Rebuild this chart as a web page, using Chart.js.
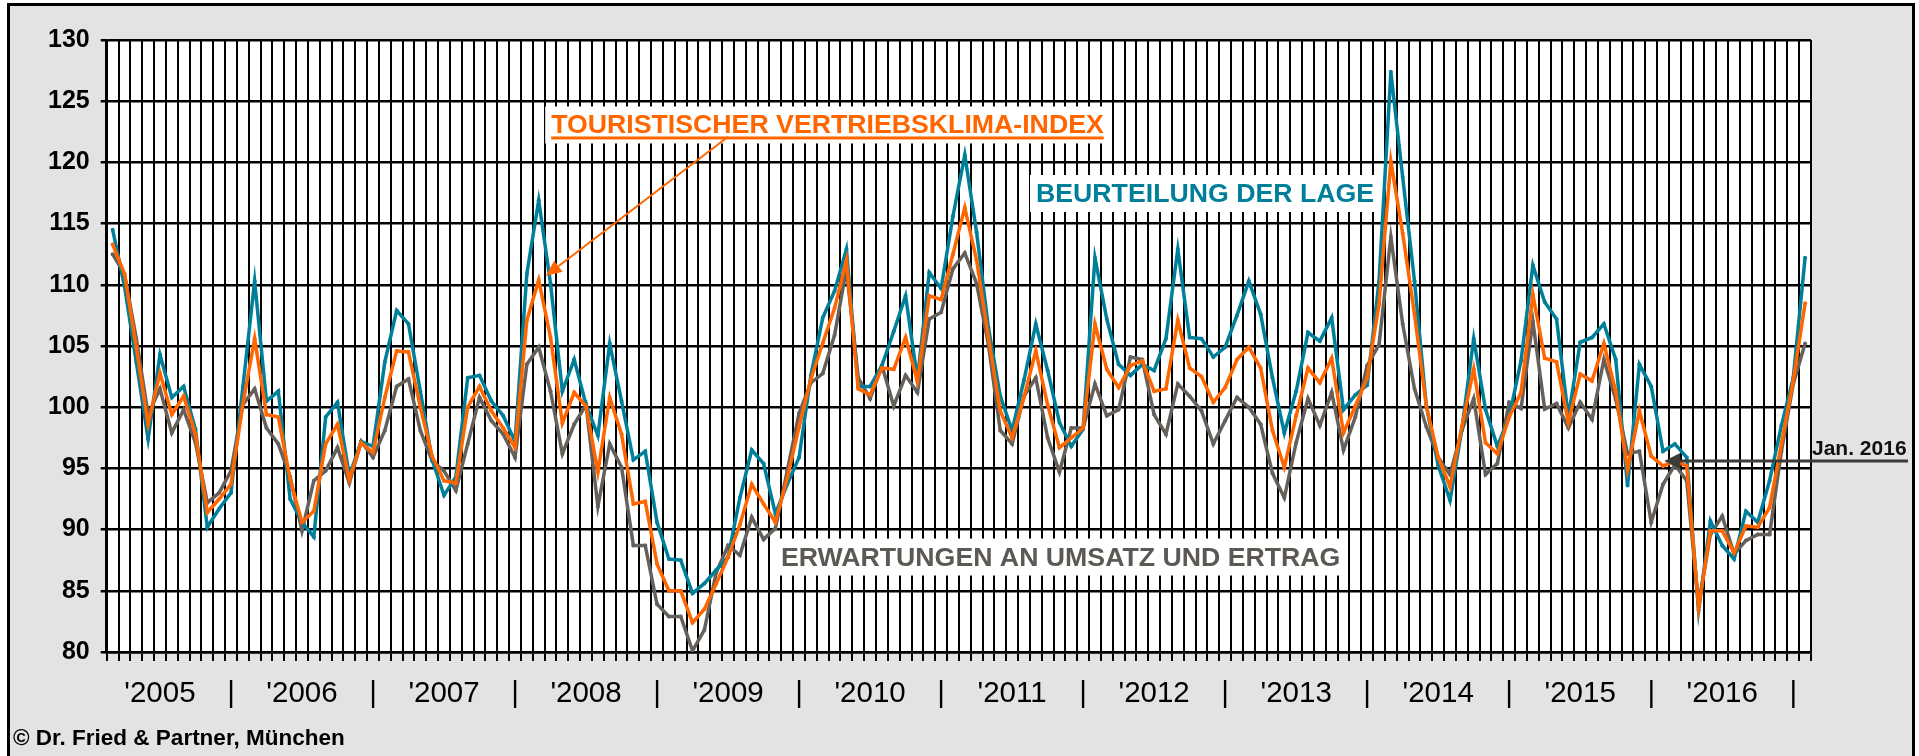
<!DOCTYPE html>
<html>
<head>
<meta charset="utf-8">
<script src="https://cdn.jsdelivr.net/npm/chart.js@4.4.1/dist/chart.umd.min.js"></script>
<style>
  html, body { margin: 0; padding: 0; background: #fff; }
  canvas { display: block; }
</style>
</head>
<body>
<canvas id="klimaChart" width="1919" height="756"></canvas>
<script>
const YEARS = ['2005','2006','2007','2008','2009','2010','2011','2012','2013','2014','2015','2016'];
const MONTHS = ['Jan','Feb','Mär','Apr','Mai','Jun','Jul','Aug','Sep','Okt','Nov','Dez'];
const YEAR_LABELS = ["'2005","'2006","'2007","'2008","'2009","'2010","'2011","'2012","'2013","'2014","'2015","'2016"];

// Touristischer Vertriebsklima-Index
const INDEX = [
  113.3,110.9,104.9,98.6,102.8,99.4,100.9,97.8,91.4,92.5,93.7,100.2,
  105.6,99.4,99.2,94.1,90.6,91.5,97.0,98.6,94.1,97.1,96.3,100.8,
  104.6,104.5,100.0,96.0,94.0,93.8,100.0,101.7,99.7,98.3,96.7,107.1,
  110.4,105.7,98.7,101.2,100.1,94.7,100.8,97.8,92.1,92.3,87.2,85.0,
  85.0,82.4,83.5,85.6,87.75,90.4,93.7,92.1,90.6,94.2,98.4,102.3,
  105.25,108.1,112.0,101.5,101.0,103.2,103.1,105.7,102.1,109.1,108.8,112.5,
  116.3,112.0,105.7,99.7,97.5,100.8,104.6,100.2,96.7,97.5,98.3,106.8,
  103.1,101.6,103.4,103.8,101.3,101.5,107.1,103.2,102.5,100.4,101.6,103.9,
  104.9,103.2,98.1,95.1,99.3,103.2,102.0,104.0,97.9,100.1,102.4,108.4,
  120.1,114.2,107.6,100.1,95.9,93.5,98.4,103.1,97.1,96.2,99.2,101.2,
  109.2,104.0,103.7,98.75,102.7,102.15,105.2,101.3,94.9,99.7,96.0,95.2,
  95.6,95.2,83.6,89.9,89.9,88.1,90.3,90.2,91.8,97.0,102.15,108.5
];

// Beurteilung der Lage
const LAGE = [
  114.5,109.9,103.7,97.4,104.3,100.8,101.7,98.2,90.2,91.7,93.0,101.6,
  110.3,100.5,101.3,92.5,90.6,89.4,99.2,100.4,94.4,97.2,96.8,103.7,
  107.9,106.8,101.3,95.7,92.8,94.3,102.4,102.6,100.5,99.3,97.2,110.9,
  116.9,110.1,101.3,103.9,100.2,97.7,105.2,100.5,95.7,96.4,90.6,87.6,
  87.5,84.8,85.6,86.7,87.75,92.6,96.5,95.4,91.3,93.7,95.9,102.6,
  107.3,109.5,112.9,101.7,101.7,103.4,106.2,109.1,102.3,111.0,109.7,115.6,
  120.6,114.3,106.5,100.9,98.1,102.2,106.8,103.0,98.75,96.8,98.2,112.2,
  107.2,103.5,102.6,103.5,103.0,105.6,112.9,105.7,105.6,104.1,104.9,107.5,
  110.3,107.6,102.4,97.9,101.3,106.1,105.4,107.3,99.8,101.0,101.8,110.25,
  127.4,118.8,110.3,100.1,95.25,92.4,98.2,105.6,99.8,96.8,99.2,103.8,
  111.6,108.6,107.2,99.2,105.3,105.7,106.8,103.9,93.6,103.5,101.7,96.4,
  97.0,95.9,83.4,90.7,88.7,87.6,91.5,90.6,94.0,98.5,102.4,112.2
];

// Erwartungen an Umsatz und Ertrag
const ERWARTUNG = [
  112.5,110.9,105.6,99.4,101.5,97.9,99.8,97.1,92.2,93.0,94.8,100.2,
  101.5,98.3,97.0,94.3,89.9,94.0,94.8,96.7,93.8,97.2,95.9,98.1,
  101.7,102.3,98.1,95.6,94.8,93.2,97.0,100.8,98.9,97.8,95.9,103.5,
  104.9,101.3,96.2,98.6,100.2,91.9,97.0,95.1,88.7,88.7,83.9,82.9,
  82.9,80.1,81.8,86.5,88.7,87.9,91.0,89.2,90.1,94.8,99.5,102.0,
  102.75,105.9,111.3,102.4,100.7,103.4,100.1,102.6,101.2,107.2,107.75,111.3,
  112.6,110.1,105.1,98.1,97.0,100.9,102.4,97.5,94.7,98.3,98.3,101.9,
  99.3,99.8,104.1,103.9,99.4,97.8,101.9,100.9,99.7,97.0,98.9,100.8,
  100.0,98.6,94.6,92.6,97.1,100.7,98.5,101.2,96.5,99.2,103.4,105.1,
  113.9,106.8,101.5,98.4,95.9,94.5,98.1,100.7,94.5,95.4,100.4,99.9,
  107.0,99.85,100.3,98.3,100.4,99.0,103.9,100.65,96.2,96.4,90.6,93.7,
  95.3,94.0,83.8,89.6,91.1,88.0,89.1,89.6,89.6,96.4,101.9,105.2
];

const FONT = '"Liberation Sans", Arial, Helvetica, sans-serif';
const BLAU = '#007f9b';
const ORANGE = '#ff6600';
const GRAU = '#66605b';

const labels = YEARS.flatMap(y => MONTHS.map(m => m + ' ' + y));

// Jahreslabels und Trennstriche unter der Achse
const yearTicks = [];
YEAR_LABELS.forEach((y, k) => {
  yearTicks.push({ value: 12 * k + 4, text: y });
  yearTicks.push({ value: 12 * k + 10, text: '|' });
});

function arrow(ctx, x1, y1, x2, y2, color, width, headLen, headW) {
  const ang = Math.atan2(y2 - y1, x2 - x1);
  const bx = x2 - headLen * Math.cos(ang), by = y2 - headLen * Math.sin(ang);
  ctx.strokeStyle = color; ctx.fillStyle = color; ctx.lineWidth = width;
  ctx.beginPath(); ctx.moveTo(x1, y1); ctx.lineTo(bx, by); ctx.stroke();
  ctx.beginPath();
  ctx.moveTo(x2, y2);
  ctx.lineTo(bx + headW * Math.sin(ang), by - headW * Math.cos(ang));
  ctx.lineTo(bx - headW * Math.sin(ang), by + headW * Math.cos(ang));
  ctx.closePath(); ctx.fill();
}

const framePlugin = {
  id: 'frame',
  beforeDraw(chart) {
    const { ctx, chartArea: a } = chart;
    ctx.save();
    ctx.fillStyle = '#fff';
    ctx.fillRect(0, 0, chart.width, chart.height);
    ctx.fillStyle = '#e3e3e3';
    ctx.fillRect(8, 4, 1905, 800);
    ctx.strokeStyle = '#000'; ctx.lineWidth = 3;
    ctx.strokeRect(8.5, 4.5, 1905, 800);
    ctx.fillStyle = '#fff';
    ctx.fillRect(a.left, a.top, a.right - a.left, a.bottom - a.top);
    ctx.restore();
  },
  afterDraw(chart) {
    const { ctx } = chart;
    ctx.save();
    ctx.font = 'bold 22.5px ' + FONT;
    ctx.fillStyle = '#000';
    ctx.textBaseline = 'alphabetic';
    ctx.fillText('\u00a9 Dr. Fried & Partner, M\u00fcnchen', 13, 745);
    ctx.restore();
  }
};

const labelPlugin = {
  id: 'seriesLabels',
  beforeDatasetsDraw(chart) {
    const { ctx, scales: { x, y } } = chart;
    const boxes = [
      { text: 'TOURISTISCHER VERTRIEBSKLIMA-INDEX', color: ORANGE, i: 60.4, v: 123.1, underline: true },
      { text: 'BEURTEILUNG DER LAGE', color: BLAU, i: 92.3, v: 117.5 },
      { text: 'ERWARTUNGEN AN UMSATZ UND ERTRAG', color: '#5c5854', i: 80.1, v: 87.8 }
    ];
    ctx.save();
    ctx.font = 'bold 26.7px ' + FONT;
    boxes.forEach(b => {
      const cx = x.getPixelForValue(b.i), cy = y.getPixelForValue(b.v);
      const w = ctx.measureText(b.text).width;
      ctx.fillStyle = '#fff';
      ctx.fillRect(cx - w / 2 - 6, cy - 18, w + 12, 37);
      ctx.fillStyle = b.color;
      ctx.textAlign = 'center';
      ctx.textBaseline = 'alphabetic';
      ctx.fillText(b.text, cx, cy + 9);
      if (b.underline) {
        ctx.fillRect(cx - w / 2, cy + 12, w, 3);
      }
    });
    ctx.restore();
  },
  afterDatasetsDraw(chart) {
    const { ctx, chartArea: a, scales: { x, y } } = chart;
    ctx.save();
    // Pfeil vom Index-Titel zur Spitze 2008
    const tx = x.getPixelForValue(36) + 7, ty = y.getPixelForValue(INDEX[36]) - 4;
    arrow(ctx, x.getPixelForValue(52), y.getPixelForValue(122.1), tx, ty, ORANGE, 2, 16, 7);
    // Jan. 2016
    const jx = x.getPixelForValue(131.1), jy = y.getPixelForValue(95.6);
    arrow(ctx, a.right + 97, jy, jx, jy, '#3f3b38', 3, 16, 8);
    ctx.font = 'bold 21px ' + FONT;
    ctx.fillStyle = '#111';
    ctx.textBaseline = 'alphabetic';
    ctx.fillText('Jan. 2016', a.right + 1, jy - 6);
    ctx.restore();
  }
};

function line(label, data, color) {
  return {
    label, data,
    borderColor: color, backgroundColor: color,
    borderWidth: 3.5,
    pointRadius: 2, pointBorderWidth: 0, pointBackgroundColor: color,
    tension: 0, fill: false
  };
}

new Chart(document.getElementById('klimaChart'), {
  type: 'line',
  data: {
    labels,
    datasets: [
      line('Touristischer Vertriebsklima-Index', INDEX, ORANGE),
      line('Beurteilung der Lage', LAGE, BLAU),
      line('Erwartungen an Umsatz und Ertrag', ERWARTUNG, GRAU)
    ]
  },
  options: {
    responsive: false,
    animation: false,
    layout: { padding: { left: 0, top: 40, right: 108, bottom: 0 } },
    plugins: { legend: { display: false }, tooltip: { enabled: false } },
    scales: {
      x: {
        type: 'category',
        offset: true,
        grid: { offset: true, color: '#000', lineWidth: 2, tickLength: 9, drawTicks: true },
        border: { color: '#000', width: 2.5 },
        ticks: { display: false, autoSkip: false },
        afterFit: s => { s.height = 9; }
      },
      x2: {
        type: 'linear',
        position: 'bottom',
        min: -0.5, max: 143.5,
        grid: { display: false, drawTicks: false },
        border: { display: false },
        afterBuildTicks: s => { s.ticks = yearTicks.map(t => ({ value: t.value })); },
        ticks: {
          autoSkip: false, maxRotation: 0, minRotation: 0,
          font: { family: FONT, size: 29.5 }, color: '#000', padding: 15,
          callback: (v, idx) => yearTicks[idx].text
        },
        afterFit: s => { s.height = 95; }
      },
      y: {
        min: 80, max: 130,
        ticks: { stepSize: 5, font: { family: FONT, size: 25, weight: 'bold' }, color: '#000', padding: 11 },
        grid: { color: '#000', lineWidth: 2.5, tickLength: 6 },
        border: { color: '#000', width: 2.5 },
        afterFit: s => { s.width = 106.7; }
      }
    }
  },
  plugins: [framePlugin, labelPlugin]
});
</script>
</body>
</html>
